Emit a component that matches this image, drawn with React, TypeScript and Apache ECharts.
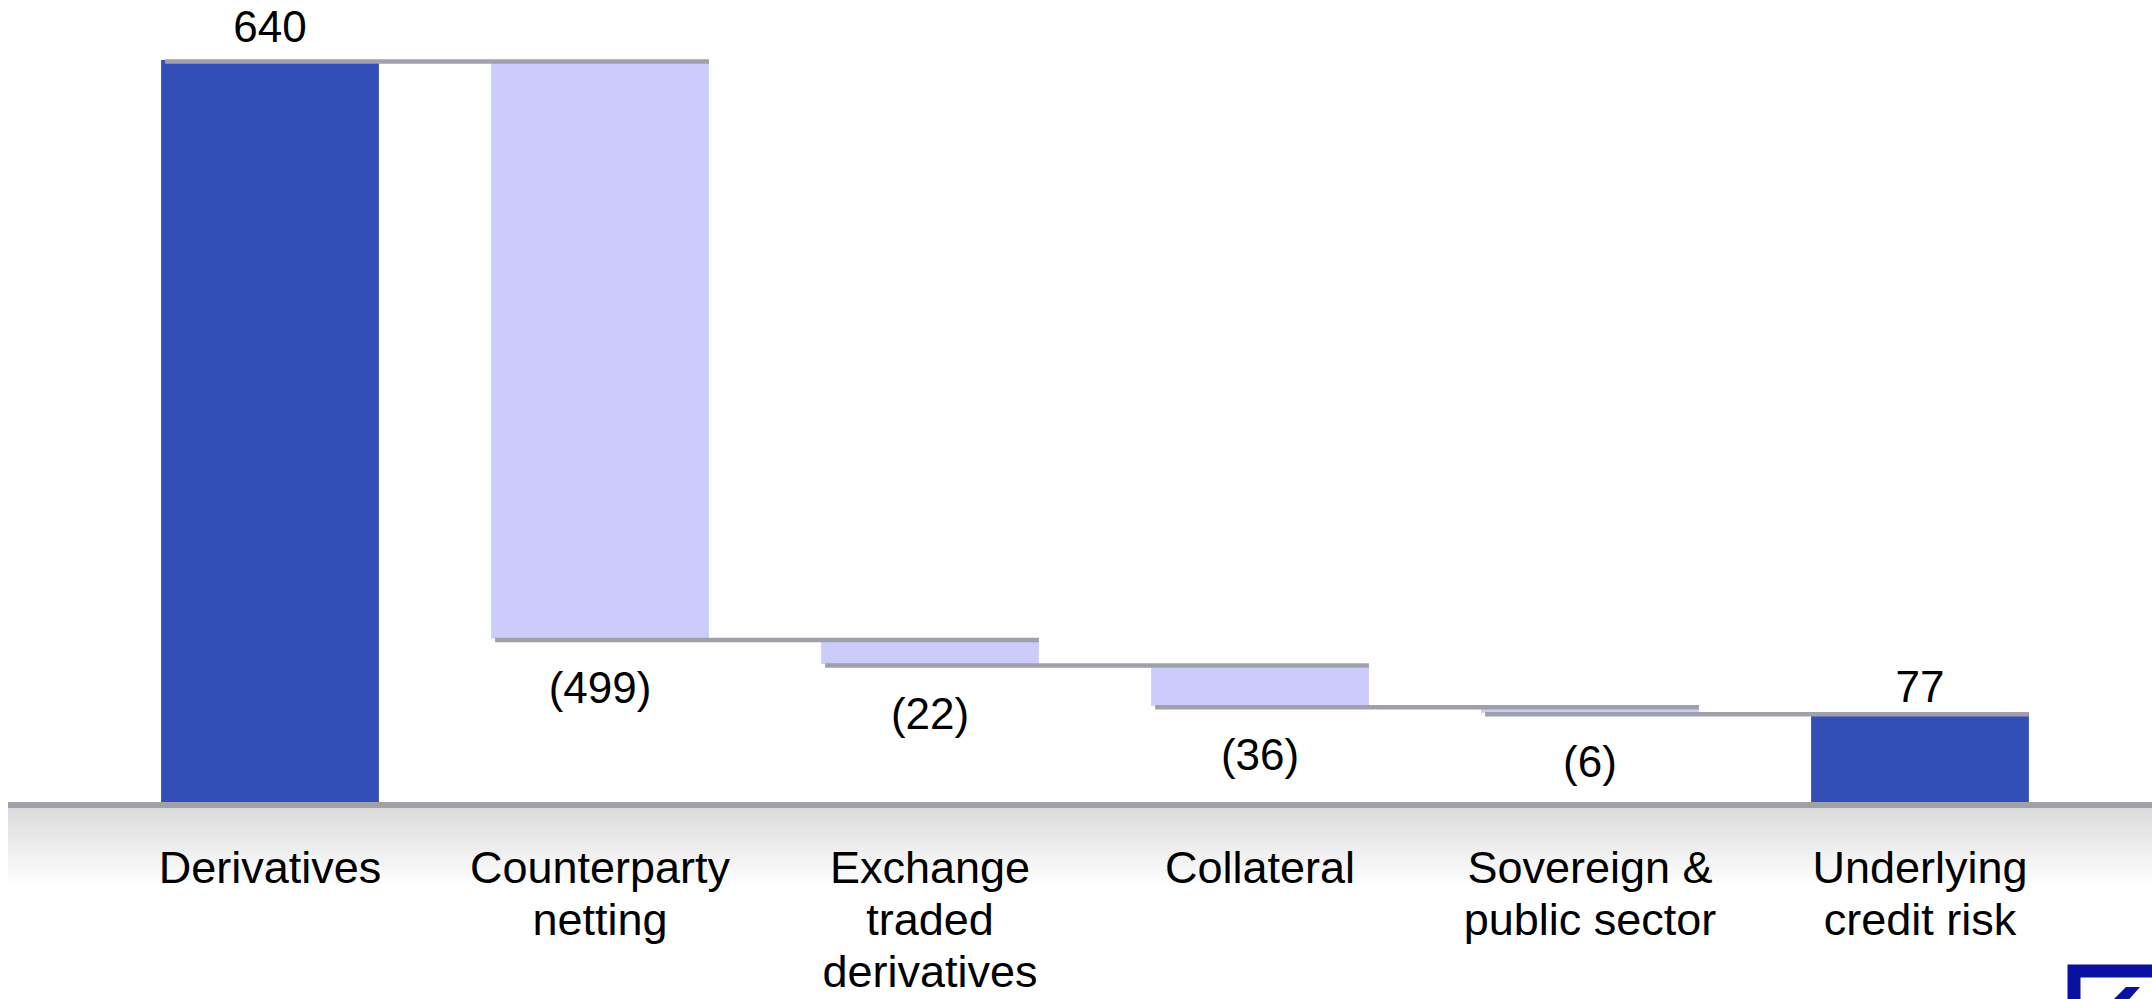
import React, { useEffect, useRef } from "react";
import * as echarts from "echarts";

const categories = [
  "Derivatives",
  "Counterparty\nnetting",
  "Exchange\ntraded\nderivatives",
  "Collateral",
  "Sovereign &\npublic sector",
  "Underlying\ncredit risk",
];
const values = [640, -499, -22, -36, -6, 77];
const isTotal = [true, false, false, false, false, true];
const yMin = 0;
const yMax = 640;

const FONT = "'Liberation Sans', Arial, sans-serif";
const DARK = "#344EB7";
const LIGHT = "#CCCCFC";
const GREY = "#A0A0AA";

export default function App() {
  const ref = useRef<HTMLDivElement>(null);

  useEffect(() => {
    const chart = echarts.init(ref.current!, null, { renderer: "svg" });

    let running = 0;
    const base: number[] = [];
    const height: number[] = [];
    const ends: number[] = [];
    values.forEach((v, i) => {
      if (isTotal[i]) {
        base.push(0);
        height.push(v);
        running = v;
      } else {
        const next = running + v;
        base.push(Math.min(running, next));
        height.push(Math.abs(v));
        running = next;
      }
      ends.push(running);
    });
    const connectors = ends.slice(0, -1).map((e, i) => [i, e]);

    const barData = height.map((h, i) => ({
      value: h,
      itemStyle: { color: isTotal[i] ? DARK : LIGHT },
      label: {
        show: true,
        position: values[i] < 0 ? "bottom" : "top",
        distance: values[i] < 0 ? 27 : i === 0 ? 12 : 4,
      },
    }));

    chart.setOption({
      animation: false,
      grid: { left: 105, right: 67, top: 60, bottom: 197, outerBoundsMode: "none", containLabel: false },
      xAxis: {
        type: "category",
        data: categories,
        axisLine: { show: false },
        axisTick: { show: false },
        axisLabel: {
          interval: 0,
          margin: 39,
          fontSize: 45,
          lineHeight: 52,
          color: "#000",
          fontFamily: FONT,
        },
      },
      yAxis: {
        type: "value",
        min: yMin,
        max: yMax,
        show: false,
        splitLine: { show: false },
      },
      series: [
        {
          type: "bar",
          stack: "w",
          data: base,
          barWidth: "66%",
          itemStyle: { color: "transparent" },
          silent: true,
        },
        {
          type: "bar",
          stack: "w",
          data: barData,
          barWidth: "66%",
          label: {
            fontSize: 44,
            lineHeight: 44,
            color: "#000",
            fontFamily: FONT,
            formatter: (p: any) => {
              const v = values[p.dataIndex];
              return v < 0 ? `(${-v})` : `${v}`;
            },
          },
        },
        {
          type: "custom",
          z: 5,
          data: connectors,
          renderItem: (params: any, api: any) => {
            const p = api.coord([api.value(0), api.value(1)]);
            const band = api.size([1, 0])[0];
            const bw = band * 0.66;
            return {
              type: "line",
              shape: { x1: p[0] - bw / 2 + 4, y1: p[1] + 1.5, x2: p[0] + band + bw / 2, y2: p[1] + 1.5 },
              style: { stroke: GREY, lineWidth: 4.5 },
            };
          },
        },
      ],
    });

    const baseY = chart.convertToPixel({ gridIndex: 0 } as any, [0, 0])[1];
    chart.setOption({
      graphic: [
        {
          type: "rect",
          z: 0,
          shape: { x: 8, y: baseY + 4, width: 2144, height: 80 },
          style: {
            fill: new echarts.graphic.LinearGradient(0, 0, 0, 1, [
              { offset: 0, color: "#DADADA" },
              { offset: 1, color: "#FFFFFF" },
            ]),
          },
        },
        {
          type: "line",
          z: 10,
          shape: { x1: 8, y1: baseY + 3, x2: 2152, y2: baseY + 3 },
          style: { stroke: GREY, lineWidth: 6 },
        },
        {
          type: "group",
          z: 10,
          x: 2068,
          y: 965,
          children: [
            {
              type: "rect",
              shape: { x: 6, y: 6, width: 96, height: 96 },
              style: { fill: "#fff", stroke: "#0A10A0", lineWidth: 13 },
            },
            {
              type: "polygon",
              shape: { points: [[40, 40], [56, 40], [72, 22], [58, 22]] },
              style: { fill: "#0A10A0" },
            },
          ],
        },
      ],
    });

    return () => chart.dispose();
  }, []);

  return (
    <div
      ref={ref}
      style={{ position: "fixed", left: 0, top: 0, width: 2152, height: 999, background: "#fff" }}
    />
  );
}
